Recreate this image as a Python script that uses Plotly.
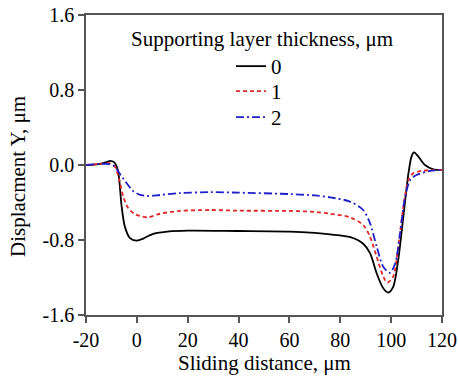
import plotly.graph_objects as go

# Vertical displacement along the sliding path for three supporting-layer thicknesses
x_t0 = [-20, -15, -12, -10.5, -9, -7.5, -6, -4.7, -2.7, 0, 2.5, 5, 8, 12, 20, 40, 60, 70, 76,
        84, 89, 91.7, 94.3, 96.9, 98.9, 100.8, 102.8, 104.8, 106.8, 108, 109, 110.7, 113.3,
        116.6, 120]
y_t0 = [0.00, 0.01, 0.03, 0.045, 0.03, -0.05, -0.44, -0.66, -0.78, -0.807, -0.785, -0.75,
        -0.725, -0.71, -0.70, -0.704, -0.71, -0.725, -0.74, -0.77, -0.84, -0.94, -1.155,
        -1.315, -1.36, -1.30, -1.01, -0.55, -0.09, 0.09, 0.135, 0.09, 0.0, -0.046, -0.053]

x_t1 = [-20, -15, -11, -8.6, -7, -5.3, -3.4, -1, 1.2, 4.5, 9, 17, 28.8, 40, 60, 70, 76, 83.8,
        89, 91.7, 94.3, 96.9, 98.5, 100.8, 102.8, 104.8, 106.8, 108.6, 112.6, 120]
y_t1 = [0.00, 0.01, 0.02, -0.02, -0.15, -0.34, -0.46, -0.52, -0.544, -0.558, -0.52, -0.49,
        -0.48, -0.487, -0.49, -0.50, -0.52, -0.558, -0.64, -0.765, -0.978, -1.19, -1.255,
        -1.19, -0.87, -0.445, -0.16, -0.09, -0.06, -0.053]

x_t2 = [-20, -15, -11, -9, -7.3, -5.5, -4, -1.4, 1, 3.9, 6, 9.1, 17, 28.8, 40, 60, 70, 76,
        83.8, 89, 91.7, 94.3, 96.9, 99.5, 101.6, 103.5, 105.5, 107.5, 110, 115, 120]
y_t2 = [0.00, 0.01, 0.01, -0.01, -0.07, -0.14, -0.195, -0.28, -0.315, -0.33, -0.33, -0.32,
        -0.30, -0.29, -0.295, -0.31, -0.325, -0.345, -0.39, -0.48, -0.62, -0.87, -1.085,
        -1.15, -1.05, -0.73, -0.34, -0.16, -0.107, -0.064, -0.053]

names = ["0", "1", "2"]
xs = [x_t0, x_t1, x_t2]
ys = [y_t0, y_t1, y_t2]
colors = ["#000000", "#e02828", "#1f1fc8"]
dashes = ["solid", "4px,3px", "8px,3px,2px,3px"]

x_ticks = [-20, 0, 20, 40, 60, 80, 100, 120]
y_ticks = [1.6, 0.8, 0.0, -0.8, -1.6]
y_tick_text = ["1.6", "0.8", "0.0", "-0.8", "-1.6"]
x_tick_text = [str(v) for v in x_ticks]

FONT = "Liberation Serif"

# one legend box per series so the rows sit at a tight, even spacing
legend_ids = ["legend", "legend2", "legend3"]
legend_tops = [0.8967, 0.8133, 0.7267]

fig = go.Figure()
for name, xv, yv, c, d, lg in zip(names, xs, ys, colors, dashes, legend_ids):
    fig.add_trace(go.Scatter(
        x=xv, y=yv, name=name, mode="lines", legend=lg,
        line=dict(color=c, width=1.8, dash=d, shape="spline", smoothing=0.8),
    ))

axis_common = dict(
    automargin=False,
    showgrid=False, zeroline=False, showline=True, linecolor="#555555", linewidth=1.5,
    mirror=True, ticks="outside", ticklen=6, tickwidth=1.5, tickcolor="#555555",
    tickfont=dict(family=FONT, size=20, color="#000000"),
)

legend_style = dict(
    x=0.4073, xanchor="left", yanchor="top",
    bgcolor="rgba(0,0,0,0)", borderwidth=0,
    font=dict(family=FONT, size=21, color="#000000"),
)

fig.update_layout(
    width=458, height=378, autosize=False,
    margin=dict(l=86, r=16, t=15, b=63),
    paper_bgcolor="white", plot_bgcolor="white",
    font=dict(family=FONT, size=20, color="#000000"),
    xaxis=dict(range=[-20, 120], tickvals=x_ticks, ticktext=x_tick_text, **axis_common),
    yaxis=dict(range=[-1.6, 1.6], tickvals=y_ticks, ticktext=y_tick_text, **axis_common),
    showlegend=True,
    legend=dict(y=legend_tops[0], **legend_style),
    legend2=dict(y=legend_tops[1], **legend_style),
    legend3=dict(y=legend_tops[2], **legend_style),
    annotations=[
        dict(text="Supporting layer thickness, μm", xref="paper", yref="paper",
             x=0.493, y=0.92, xanchor="center", yanchor="middle", showarrow=False,
             font=dict(family=FONT, size=21, color="#000000")),
        dict(text="Sliding distance, μm", xref="paper", yref="paper",
             x=0.5, y=-0.16, xanchor="center", yanchor="middle", showarrow=False,
             font=dict(family=FONT, size=21, color="#000000")),
        dict(text="Displacment Y, μm", xref="paper", yref="paper",
             x=-0.191, y=0.46, xanchor="center", yanchor="middle", showarrow=False,
             textangle=-90, font=dict(family=FONT, size=21, color="#000000")),
    ],
)

fig.write_html("out.html")
